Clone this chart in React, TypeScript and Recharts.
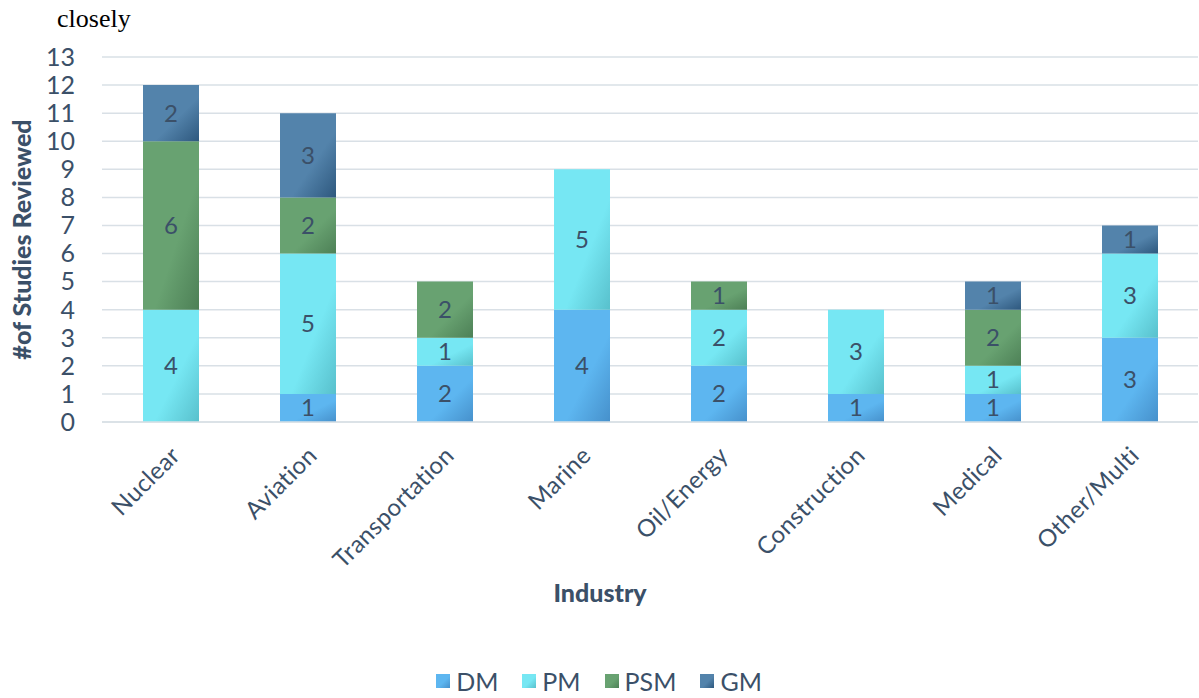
import React from 'react';
import { BarChart, Bar, XAxis, YAxis, CartesianGrid, Legend, LabelList, Label } from 'recharts';

const industries = ['Nuclear', 'Aviation', 'Transportation', 'Marine', 'Oil/Energy', 'Construction', 'Medical', 'Other/Multi'];
const dm = [0, 1, 2, 4, 2, 1, 1, 3];
const pm = [4, 5, 1, 5, 2, 3, 1, 3];
const psm = [6, 2, 2, 0, 1, 0, 2, 0];
const gm = [2, 3, 0, 0, 0, 0, 1, 1];
const yTicks = [0, 1, 2, 3, 4, 5, 6, 7, 8, 9, 10, 11, 12, 13];

const data = industries.map((name, i) => ({ name, DM: dm[i], PM: pm[i], PSM: psm[i], GM: gm[i] }));

const TEXT = '#3b5068';
const FONT = 'Lato, "Open Sans", sans-serif';

const series = [
  { key: 'DM', light: '#5db6f0', dark: '#4690cb' },
  { key: 'PM', light: '#76e7f3', dark: '#58c0cc' },
  { key: 'PSM', light: '#68a271', dark: '#4d8056' },
  { key: 'GM', light: '#5383ab', dark: '#2e587e' },
];

const XTick = (props: any) => {
  const { x, y, payload } = props;
  const ax = x + 11;
  const ay = y + 27;
  return (
    <text x={ax} y={ay} textAnchor="end" fill={TEXT} fontSize={24} letterSpacing={0.4} fontFamily={FONT}
      transform={`rotate(-45, ${ax}, ${ay})`}>
      {payload.value}
    </text>
  );
};

const hideZero = (v: any) => (v ? v : '');

const LegendContent = () => (
  <div style={{ display: 'flex', justifyContent: 'center', alignItems: 'center', fontFamily: FONT, fontSize: 25, color: TEXT, paddingTop: 8 }}>
    {series.map((s) => (
      <div key={s.key} style={{ display: 'flex', alignItems: 'center', margin: '0 12px' }}>
        <span style={{ display: 'inline-block', width: 14, height: 14, marginRight: 6, background: `linear-gradient(135deg, ${s.light} 55%, ${s.dark})` }} />
        <span>{s.key}</span>
      </div>
    ))}
  </div>
);

export default function App() {
  return (
    <div style={{ position: 'absolute', left: 0, top: 0, width: 1199, height: 698, background: '#fff' }}>
      <div style={{ position: 'absolute', left: 57, top: 4, fontFamily: '"Liberation Serif", serif', fontSize: 26, color: '#000' }}>
        closely
      </div>
      <BarChart width={1199} height={698} data={data} margin={{ top: 57, right: 1, left: 0, bottom: 0 }} barSize={56}>
        <defs>
          {series.map((s) => (
            <linearGradient key={s.key} id={`g-${s.key}`} x1="0" y1="0" x2="1" y2="1">
              <stop offset="0%" stopColor={s.light} />
              <stop offset="60%" stopColor={s.light} />
              <stop offset="100%" stopColor={s.dark} />
            </linearGradient>
          ))}
        </defs>
        <CartesianGrid vertical={false} stroke="#d9e0e6" strokeWidth={1.5} />
        <XAxis dataKey="name" interval={0} axisLine={{ stroke: '#d9e0e6', strokeWidth: 1.5 }} tickLine={false}
          tick={<XTick />} height={236}>
          <Label value="Industry" position="insideBottom" offset={56} dx={-50} fill={TEXT} fontSize={25} fontWeight={900} fontFamily={FONT} />
        </XAxis>
        <YAxis domain={[0, 13]} ticks={yTicks} interval={0} width={102} axisLine={false} tickLine={false}
          tickMargin={21} tick={{ fill: TEXT, fontSize: 25, fontFamily: FONT }}>
          <Label value="#of Studies Reviewed" angle={-90} position="insideLeft" offset={22} fill={TEXT} fontSize={25} fontWeight={900} fontFamily={FONT} style={{ textAnchor: 'middle' }} />
        </YAxis>
        <Legend verticalAlign="bottom" height={40} content={<LegendContent />} />
        {series.map((s) => (
          <Bar key={s.key} dataKey={s.key} stackId="a" fill={`url(#g-${s.key})`} isAnimationActive={false}>
            <LabelList dataKey={s.key} position="center" formatter={hideZero} fill={TEXT} fontSize={24} fontFamily={FONT} />
          </Bar>
        ))}
      </BarChart>
    </div>
  );
}
